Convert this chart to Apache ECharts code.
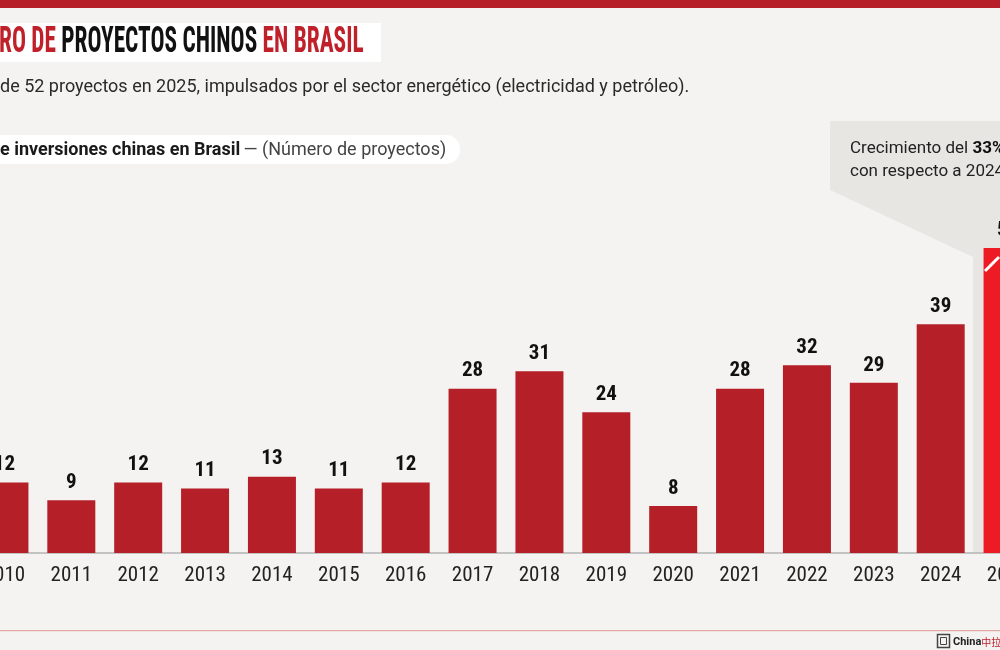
<!DOCTYPE html>
<html>
<head>
<meta charset="utf-8">
<style>
  html, body { margin: 0; padding: 0; background: #f4f3f1; overflow: hidden; width: 1000px; height: 650px; }
  /* the plot runs past both edges of the frame, as in the reference crop */
  #chart { position: absolute; left: -29px; top: 0; width: 1070px; height: 650px; }
</style>
<script src="https://cdn.jsdelivr.net/npm/echarts@6/dist/echarts.min.js"></script>
</head>
<body>
<div id="chart"></div>
<script>
// Data
const years = ["2010", "2011", "2012", "2013", "2014", "2015", "2016", "2017",
  "2018", "2019", "2020", "2021", "2022", "2023", "2024", "2025"];
const projects = [12, 9, 12, 11, 13, 11, 12, 28, 31, 24, 8, 28, 32, 29, 39, 52];
const highlightYear = "2025";

const RED = "#b51f28";
const HIGHLIGHT = "#ed1c24";
const COND = "'Roboto Condensed', 'Liberation Sans Narrow', 'DejaVu Sans Condensed', sans-serif";
const OFF = 29; // frame offset inside the wider chart div

const chart = echarts.init(document.getElementById("chart"));

chart.setOption({
  backgroundColor: "#f4f3f1",
  animation: false,
  grid: { left: 0, right: 0, top: 201, bottom: 97 },
  xAxis: {
    type: "category",
    data: years,
    axisTick: { show: false },
    axisLine: { lineStyle: { color: "#b3b3b3", width: 1.5 } },
    axisLabel: { color: "#222", fontFamily: COND, fontSize: 21, margin: 12 }
  },
  yAxis: { type: "value", min: 0, max: 60, show: false, splitLine: { show: false } },
  series: [{
    type: "bar",
    barWidth: 48,
    z: 3,
    data: projects.map((v, i) => ({
      value: v,
      itemStyle: { color: years[i] === highlightYear ? HIGHLIGHT : RED }
    })),
    label: {
      show: true,
      position: "top",
      distance: 7,
      color: "#111",
      fontFamily: COND,
      fontWeight: "bold",
      fontSize: 21
    }
  }],
  graphic: [{
    type: "group", x: OFF, y: 0,
    children: [
      // top red strip
      { type: "rect", shape: { x: -OFF, y: 0, width: 1070, height: 8 }, style: { fill: "#b71f28" } },
      // title box
      { type: "rect", shape: { x: -OFF, y: 23, width: 381 + OFF, height: 39 }, style: { fill: "#ffffff" } },
      {
        type: "text", x: -1, y: 43, scaleX: 0.63,
        style: {
          text: "{r|RO DE }{k|PROYECTOS CHINOS }{r|EN BRASIL}",
          verticalAlign: "middle",
          rich: {
            r: { fill: "#c0202a", fontFamily: COND, fontWeight: "bold", fontSize: 37 },
            k: { fill: "#111111", fontFamily: COND, fontWeight: "bold", fontSize: 37 }
          }
        }
      },
      {
        type: "text", x: 0, y: 87,
        style: {
          text: "de 52 proyectos en 2025, impulsados por el sector energético (electricidad y petróleo).",
          fill: "#2a2a2a", font: "18px Roboto", verticalAlign: "middle"
        }
      },
      // pill
      { type: "rect", shape: { x: -OFF, y: 135, width: 489, height: 29, r: 14 }, style: { fill: "#ffffff" } },
      {
        type: "text", x: 0, y: 150,
        style: {
          text: "{b|e inversiones chinas en Brasil} {n|— (Número de proyectos)}",
          verticalAlign: "middle",
          rich: {
            b: { fill: "#1a1a1a", fontFamily: "Roboto", fontWeight: "bold", fontSize: 18 },
            n: { fill: "#444", fontFamily: "Roboto", fontSize: 18 }
          }
        }
      },
      // callout
      {
        type: "polygon", z: -1,
        shape: { points: [[830, 121], [1041, 121], [1041, 553], [973, 553], [973, 257], [830, 190]] },
        style: { fill: "#e8e6e2" }
      },
      {
        type: "text", x: 850, y: 160,
        style: {
          text: "{n|Crecimiento del }{b|33%}\n{n|con respecto a 2024}",
          verticalAlign: "middle",
          rich: {
            n: { fill: "#222", fontFamily: "Roboto", fontSize: 17, lineHeight: 23 },
            b: { fill: "#111", fontFamily: "Roboto", fontWeight: "bold", fontSize: 17, lineHeight: 23 }
          }
        }
      },
      // trend arrow in highlight bar
      {
        type: "polyline", z: 10,
        shape: { points: [[985, 271], [999, 257]] },
        style: { stroke: "#ffffff", lineWidth: 3, fill: null }
      },
      // bottom line and logo
      { type: "rect", shape: { x: -OFF, y: 630, width: 1070, height: 1.2 }, style: { fill: "#e2aaa6" } },
      { type: "rect", shape: { x: 937.5, y: 634.5, width: 12, height: 13 }, style: { fill: null, stroke: "#444", lineWidth: 1.5 } },
      { type: "rect", shape: { x: 940.5, y: 637.5, width: 6, height: 7 }, style: { fill: null, stroke: "#444", lineWidth: 1 } },
      {
        type: "text", x: 953, y: 642,
        style: {
          text: "{k|China}{r|中拉新闻}",
          verticalAlign: "middle",
          rich: {
            k: { fill: "#222", fontFamily: "Roboto", fontWeight: "bold", fontSize: 11 },
            r: { fill: "#c0202a", fontFamily: "'Noto Sans CJK SC'", fontSize: 10 }
          }
        }
      }
    ]
  }]
});
</script>
</body>
</html>
